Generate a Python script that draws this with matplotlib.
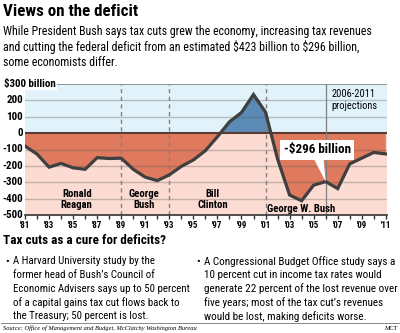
import matplotlib
matplotlib.use("Agg")
import matplotlib.pyplot as plt
from matplotlib import font_manager
from matplotlib.patches import Polygon
import numpy as np

# ---- data -------------------------------------------------------------
years = list(range(1981, 2012))
balance = [-79, -128, -208, -185, -212, -221, -150, -155, -153, -221,
           -269, -290, -255, -203, -164, -107, -22, 69, 126, 236,
           128, -158, -378, -413, -318, -296, -339, -188, -153, -118,
           -127]
y_ticks = [300, 200, 100, 0, -100, -200, -300, -400, -500]
y_tick_labels = ["$300 billion", "200", "100", "0", "-100", "-200", "-300",
                 "-400", "-500"]
x_label_years = list(range(1981, 2012, 2))
x_tick_labels = ["'" + str(y)[2:] for y in x_label_years]
term_breaks = [1989, 1993, 2001]
projection_start = 2006
presidents = [("Ronald\nReagan", 1985.3, -405), ("George\nBush", 1990.9, -405),
              ("Bill\nClinton", 1996.6, -405), ("George W. Bush", 2004.0, -466)]
callout_year = 2006
callout_value = -296
callout_text = "-$296 billion"

title = "Views on the deficit"
intro = ["While President Bush says tax cuts grew the economy, increasing tax revenues",
         "and cutting the federal deficit from an estimated $423 billion to $296 billion,",
         "some economists differ."]
subhead = "Tax cuts as a cure for deficits?"
left_note = ["A Harvard University study by the",
             "former head of Bush\u2019s Council of",
             "Economic Advisers says up to 50 percent",
             "of a capital gains tax cut flows back to",
             "the Treasury; 50 percent is lost."]
right_note = ["A Congressional Budget Office study says a",
              "10 percent cut in income tax rates would",
              "generate 22 percent of the lost revenue over",
              "five years; most of the tax cut\u2019s revenues",
              "would be lost, making deficits worse."]
source = "Source: Office of Management and Budget, McClatchy Washington Bureau"
credit = "MCT"

# ---- fonts ------------------------------------------------------------
installed = {f.name for f in font_manager.fontManager.ttflist}
candidates = ["Roboto Condensed", "Liberation Sans Narrow", "Open Sans Condensed",
              "Roboto", "Liberation Sans", "DejaVu Sans"]
family = [f for f in candidates if f in installed][:1] + ["DejaVu Sans"]
plt.rcParams["font.family"] = family
plt.rcParams["text.parse_math"] = False

W, H = 400, 333
fig = plt.figure(figsize=(W / 100, H / 100), dpi=100)
fig.patch.set_facecolor("white")
renderer = fig.canvas.get_renderer()


def fx(px):
    return px / W


def fy(py):
    return 1 - py / H


def fit(texts, ref, width_px):
    """Scale the font size of `texts` so that `ref` spans width_px pixels."""
    w = ref.get_window_extent(renderer).width
    k = width_px / w
    for t in texts:
        t.set_fontsize(t.get_fontsize() * k)


SKY = "#e1f2fb"
PINK = "#fcdcd2"
DEFICIT = "#df7a5e"
SURPLUS = "#5a8ab5"
LINE = "#3f3f3f"

# ---- chart ------------------------------------------------------------
ax = fig.add_axes([fx(25), fy(215), fx(387) - fx(25), (215 - 84) / H])
ax.set_xlim(1981, 2011.1)
ax.set_ylim(-500, 300)

ax.axhspan(0, 300, color=SKY, zorder=0, lw=0)
ax.axhspan(-500, 0, color=PINK, zorder=0, lw=0)

yr = np.array(years, dtype=float)
bal = np.array(balance, dtype=float)
ax.fill_between(yr, bal, 0, where=bal <= 0, interpolate=True,
                color=DEFICIT, lw=0, zorder=2)
ax.fill_between(yr, bal, 0, where=bal >= 0, interpolate=True,
                color=SURPLUS, lw=0, zorder=2)

# light rules over the fills
for v in y_ticks[1:-1]:
    if v != 0:
        ax.axhline(v, color="#5a5a5a", alpha=0.35, lw=1.0, zorder=3)
ax.axhline(300, color="#8c8c8c", lw=1.3, zorder=3)
ax.axhline(0, color="#5b3a30", lw=1.5, zorder=3)

for b in term_breaks:
    ax.axvline(b, color="#808080", lw=1.0, ls=(0, (3, 2.5)), zorder=3)
ax.axvline(projection_start, color="#808080", lw=0.9, zorder=3)

ax.plot(yr, bal, color=LINE, lw=2.3, solid_joinstyle="miter", zorder=5)

name_texts = []
for name, xc, yc in presidents:
    name_texts.append(ax.text(xc, yc, name, ha="center", va="center",
                              fontsize=8, fontweight="bold",
                              linespacing=1.2, zorder=6))
fit(name_texts, name_texts[3], 69)

proj = ax.text(2006.5, 200, "2006-2011\nprojections", ha="left", va="center",
               fontsize=8, linespacing=1.25, zorder=6)
fit([proj], proj, 46)

# callout with pointer
tri = Polygon([[2004.9, -140], [2005.8, -140], [callout_year, callout_value]],
              closed=True, facecolor="white", edgecolor="none", zorder=6)
ax.add_patch(tri)
call = ax.text(2005.3, -103, callout_text, ha="center", va="center",
               fontsize=9, fontweight="bold", zorder=7,
               bbox=dict(boxstyle="square,pad=0.25", facecolor="white",
                         edgecolor="none"))
fit([call], call, 67)

for s in ["top", "right", "left"]:
    ax.spines[s].set_visible(False)
ax.spines["bottom"].set_color("#333333")
ax.spines["bottom"].set_linewidth(1.2)
ax.spines["bottom"].set_zorder(6)

ax.set_xticks(years, minor=True)
ax.set_xticks(x_label_years)
ax.set_xticklabels(x_tick_labels, fontsize=7, fontweight="bold")
ax.tick_params(axis="x", which="both", direction="out", length=3,
               width=1, color="#333333", pad=1.5)
ax.set_yticks([])

ytexts = []
for v, lab in zip(y_ticks, y_tick_labels):
    if v == 300:
        top_lab = ax.text(fx(2) - fx(25), 300, lab,
                          transform=ax.get_yaxis_transform(),
                          ha="left", va="center", fontsize=7,
                          fontweight="bold", zorder=8, clip_on=False,
                          bbox=dict(boxstyle="square,pad=0.1",
                                    facecolor="white", edgecolor="none"))
        ytexts.append(top_lab)
    else:
        ytexts.append(ax.text(-0.006, v, lab, transform=ax.get_yaxis_transform(),
                              ha="right", va="center", fontsize=7,
                              fontweight="bold", clip_on=False))
fit(ytexts, ytexts[-1], 21)
fig.canvas.draw()
ref_tick = ax.get_xticklabels()[0]
k = 10.5 / ref_tick.get_window_extent(renderer).width
for t in ax.get_xticklabels():
    t.set_fontsize(t.get_fontsize() * k)

# ---- header -----------------------------------------------------------
t = fig.text(fx(3), fy(12), title, fontsize=13, fontweight="heavy",
             ha="left", va="center")
fit([t], t, 134)
intro_texts = [fig.text(fx(3), fy(32 + 15 * i), line, fontsize=8, ha="left",
                        va="center") for i, line in enumerate(intro)]
fit(intro_texts, intro_texts[0], 369)

# ---- notes ------------------------------------------------------------
t = fig.text(fx(3), fy(240), subhead, fontsize=10.5, fontweight="heavy",
             ha="left", va="center")
fit([t], t, 162)
for col_x, bullet_x, lines, ref_i, ref_w in [(13, 7, left_note, 2, 177),
                                            (204, 198, right_note, 2, 194)]:
    fig.text(fx(bullet_x), fy(261.5), "\u2022", fontsize=8, ha="center",
             va="center")
    col = [fig.text(fx(col_x), fy(261.5 + 13.7 * i), line, fontsize=8,
                    ha="left", va="center") for i, line in enumerate(lines)]
    fit(col, col[ref_i], ref_w)

fig.add_artist(plt.Line2D([fx(1), fx(399)], [fy(322.5), fy(322.5)],
                          color="#888888", lw=0.7))
serif = ["Liberation Serif", "DejaVu Serif"]
src = fig.text(fx(3), fy(328.5), source, fontsize=5.3, style="italic",
               family=serif, ha="left", va="center")
fit([src], src, 195)
fig.text(fx(397), fy(328.5), credit, fontsize=src.get_fontsize(),
         style="italic", family=serif, ha="right", va="center")

fig.savefig("out.png", dpi=100, facecolor="white")
